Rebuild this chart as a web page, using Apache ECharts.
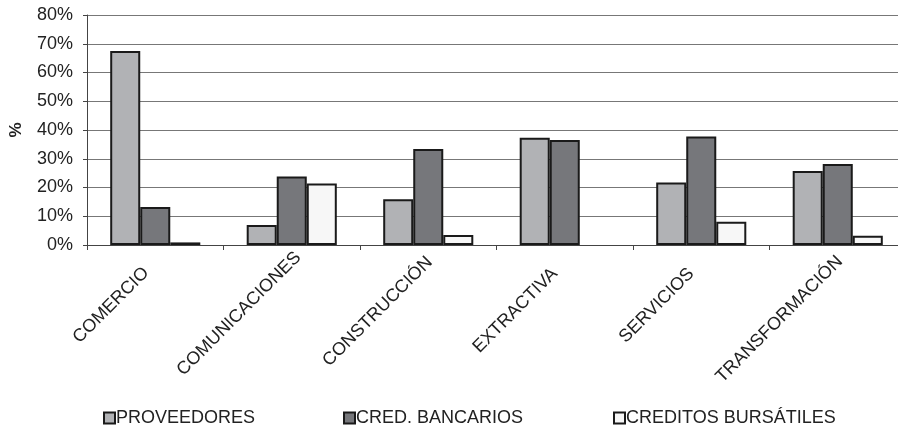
<!DOCTYPE html>
<html>
<head>
<meta charset="utf-8">
<script src="https://cdn.jsdelivr.net/npm/echarts@6/dist/echarts.min.js"></script>
<style>html,body{margin:0;padding:0;background:#fff}#c{width:898px;height:427px}</style>
</head>
<body>
<div id="c"></div>
<script>
const categories = ['COMERCIO','COMUNICACIONES','CONSTRUCCIÓN','EXTRACTIVA','SERVICIOS','TRANSFORMACIÓN'];
const seriesNames = ['PROVEEDORES','CRED. BANCARIOS','CREDITOS BURSÁTILES'];
const proveedores = [67.5, 7.0, 15.9, 37.3, 21.7, 25.7];
const credBancarios = [13.2, 23.8, 33.4, 36.5, 37.7, 28.2];
const creditosBursatiles = [0.9, 21.4, 3.5, 0, 8.1, 3.2];
const yTicks = [0, 10, 20, 30, 40, 50, 60, 70, 80];

// label layout tweak (style only): shift along the rotated text
const labelShift = [13, -9, -2, 14, 14, -3];

const font = 'Liberation Sans, Arial, sans-serif';
const colors = ['#b1b2b5', '#76777b', '#f7f7f7'];
const values = [proveedores, credBancarios, creditosBursatiles];
const legendLeft = [103, 343, 613];

const chart = echarts.init(document.getElementById('c'), null, {renderer: 'canvas'});
chart.setOption({
  animation: false,
  backgroundColor: '#ffffff',
  grid: {left: 87, top: 15, bottom: 182, right: -8, containLabel: false, outerBoundsMode: 'none'},
  legend: seriesNames.map((n, i) => ({
    data: [n], left: legendLeft[i], top: 409, padding: 0, itemWidth: 11, itemHeight: 11,
    icon: 'rect',
    textStyle: {fontFamily: font, fontSize: 18, color: '#222', padding: [0, 0, 0, -4]}
  })),
  xAxis: {
    type: 'category',
    data: categories.map((c, i) => ({value: c, textStyle: {padding: [0, labelShift[i], 0, 0]}})),
    axisLine: {lineStyle: {color: '#444', width: 1}},
    axisTick: {show: true, length: 5, lineStyle: {color: '#444'}},
    axisLabel: {rotate: 45, fontFamily: font, fontSize: 18, color: '#222', margin: 16, interval: 0}
  },
  yAxis: {
    type: 'value', min: 0, max: 80, interval: 10,
    name: '%', nameLocation: 'middle', nameGap: 62, nameRotate: 90,
    nameTextStyle: {fontFamily: font, fontSize: 17, fontWeight: 'bold', color: '#222'},
    axisLine: {show: true, lineStyle: {color: '#444', width: 1}},
    axisTick: {show: true, length: 4, lineStyle: {color: '#444'}},
    splitLine: {lineStyle: {color: '#777', width: 1}},
    axisLabel: {fontFamily: font, fontSize: 18, color: '#222', margin: 14,
      formatter: v => yTicks.includes(v) ? v + '%' : ''}
  },
  series: seriesNames.map((n, i) => ({
    name: n, type: 'bar',
    data: values[i].map(v => v === 0 ? {value: v, itemStyle: {borderWidth: 0}} : v),
    barGap: '0%', barCategoryGap: '34%',
    itemStyle: {color: colors[i], borderColor: '#1a1a1a', borderWidth: 2}
  }))
});
</script>
</body>
</html>
